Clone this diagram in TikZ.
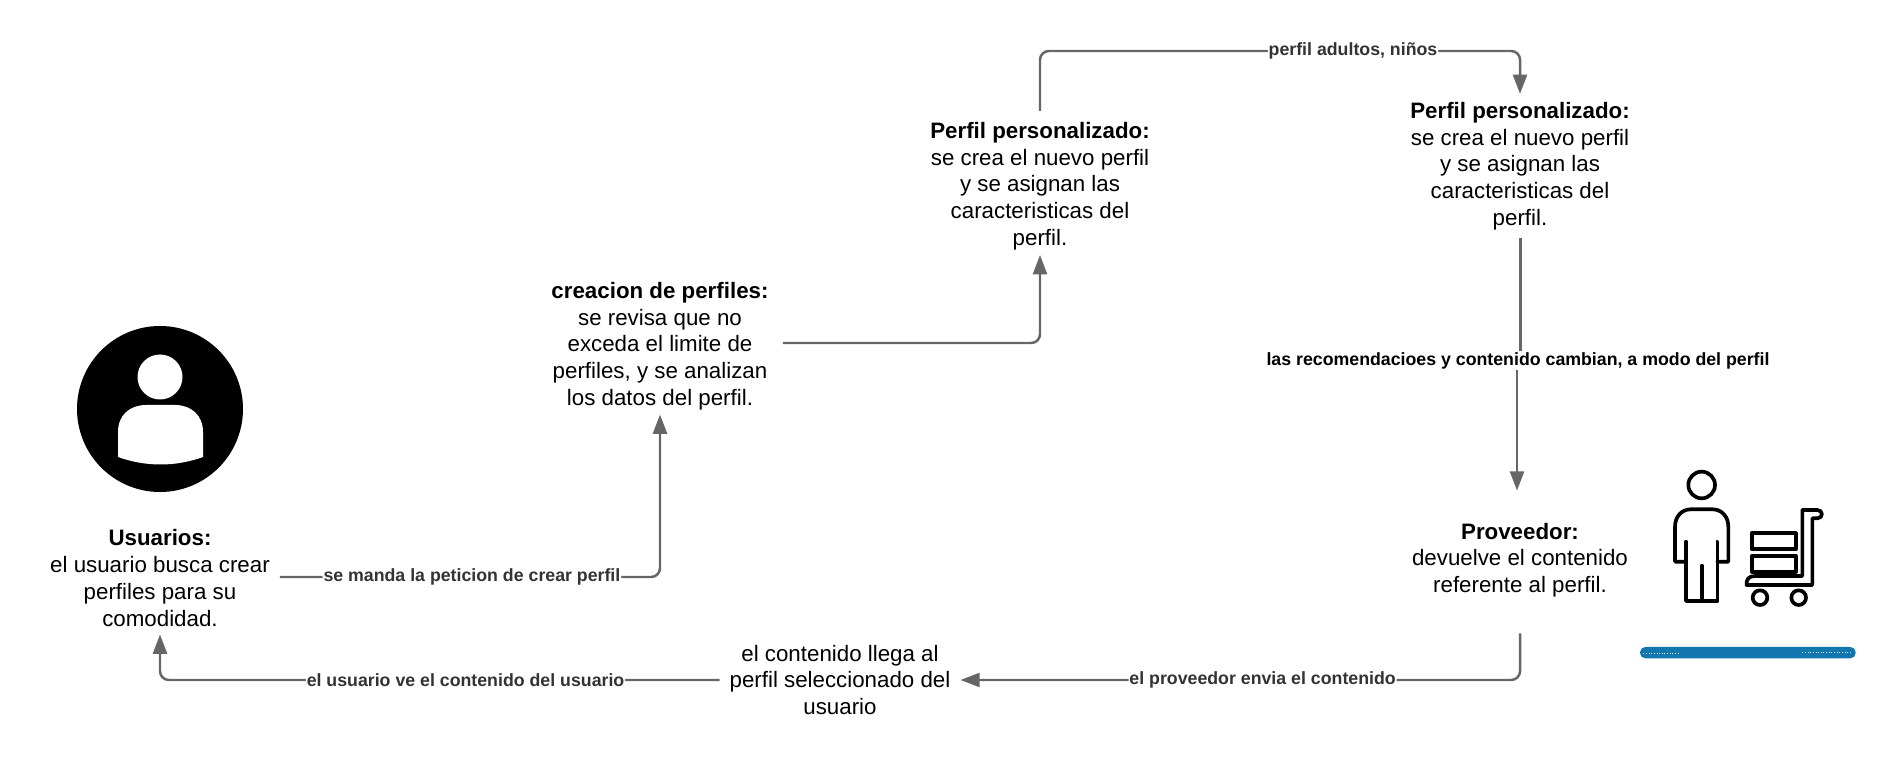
\documentclass[tikz,border=0pt]{standalone}
\usepackage{fontspec}
\setmainfont{Liberation Sans}
\usetikzlibrary{calc,arrows.meta,positioning}
\definecolor{lineGray}{RGB}{102,102,102}
\definecolor{labelGray}{RGB}{51,51,51}
\definecolor{stockBlue}{RGB}{18,119,174}
\tikzset{
  stagetext/.style={align=center,inner xsep=5.5pt,inner ysep=4.5pt,font=\fontsize{12.7}{15.2}\selectfont},
  flowline/.style={draw=lineGray,line width=1.4pt,rounded corners=5pt,-{Triangle[length=11pt,width=8pt]}},
  flowlabel/.style={fill=white,inner sep=0.5pt,text=labelGray,font=\fontsize{10.1}{12}\selectfont\bfseries},
  iconline/.style={line width=2.1pt,line join=round,line cap=round},
}
\begin{document}
\begin{tikzpicture}[x=0.02cm,y=-0.02cm]
\useasboundingbox (0,0) rectangle (1896,766);
\node[stagetext] (usuarios) at (160,578) {\textbf{Usuarios:}\\el usuario busca crear\\perfiles para su\\comodidad.};
\node[stagetext,inner xsep=8pt,inner ysep=2.5pt] (creacion) at (660,346) {\textbf{creacion de perfiles:}\\se revisa que no\\exceda el limite de\\perfiles, y se analizan\\los datos del perfil.};
\node[stagetext] (perfilA) at (1040,186) {\textbf{Perfil personalizado:}\\se crea el nuevo perfil\\y se asignan las\\caracteristicas del\\perfil.};
\node[stagetext] (perfilB) at (1520,166) {\textbf{Perfil personalizado:}\\se crea el nuevo perfil\\y se asignan las\\caracteristicas del\\perfil.};
\node[stagetext,inner ysep=17.6pt] (proveedor) at (1520,560) {\textbf{Proveedor:}\\devuelve el contenido\\referente al perfil.};
\node[stagetext] (contenido) at (840,680) {el contenido llega al\\perfil seleccionado del\\usuario};
\node[flowlabel,text=black] (recomienda) at (1518,361) {las recomendacioes y contenido cambian, a modo del perfil};
\coordinate (topmid) at (1353,51);

\draw[flowline] (usuarios.east |- 0,577) -| node[flowlabel,pos=0.2527] {se manda la peticion de crear perfil} (creacion.south);
\draw[flowline] (creacion.east |- 0,343) -| ($(perfilA.south)+(0,-3)$);
\draw[flowline] ($(perfilA.north)+(0,-3)$) |- (topmid) node[flowlabel] {perfil adultos, niños} -| (perfilB.north);
\draw[draw=lineGray,line width=1.7pt] (perfilB.south) -- (perfilB.south |- recomienda.north);
\draw[flowline] ($(proveedor.north |- recomienda.south)+(-3,0)$) -- ($(proveedor.north)+(-3,-1)$);
\draw[flowline] ($(proveedor.south)+(0,5)$) |- node[flowlabel,pos=0.73] {el proveedor envia el contenido} (contenido.east);
\draw[flowline] (contenido.west) -| node[flowlabel,pos=0.227] {el usuario ve el contenido del usuario} (usuarios.south);

% usuario
\fill[black] (160,409) circle (83);
\fill[white] (160,377) circle (22.5);
\fill[white] (118,457) -- (118,432) .. controls (118,415) and (130,405) .. (146,405) -- (175,405) .. controls (191,405) and (203,415) .. (203,432) -- (203,457) .. controls (175,467) and (146,467) .. (118,457) -- cycle;

% proveedor
\begin{scope}[shift={(1600,420)},x=0.00667cm,y=-0.00667cm]
\draw[iconline] (305,195) circle (40);
\draw[iconline] (258,365) -- (258,543) -- (352,543) -- (352,365);
\draw[iconline] (305,437) -- (305,543);
\draw[iconline] (258,425) -- (225,425) -- (225,320) .. controls (225,290) and (245,268) .. (272,268) -- (338,268) .. controls (365,268) and (385,290) .. (385,320) -- (385,425) -- (352,425);
\draw[iconline] (607,468) -- (607,270) -- (652,270) .. controls (670,270) and (670,295) .. (652,295) -- (637,295) -- (637,495) -- (440,495) .. controls (438,480) and (445,468) .. (465,468) -- cycle;
\draw[iconline] (455,340) rectangle (587,388);
\draw[iconline] (455,408) rectangle (587,455);
\draw[iconline] (480,533) circle (22);
\draw[iconline] (596,533) circle (22);
\fill[stockBlue,rounded corners=3pt] (120,681) rectangle (767,715);
\draw[white!85!stockBlue,line width=0.5pt,densely dotted] (130,699) -- (235,699);
\draw[white!85!stockBlue,line width=0.5pt,densely dotted] (607,697) -- (755,697);
\end{scope}
\end{tikzpicture}
\end{document}
